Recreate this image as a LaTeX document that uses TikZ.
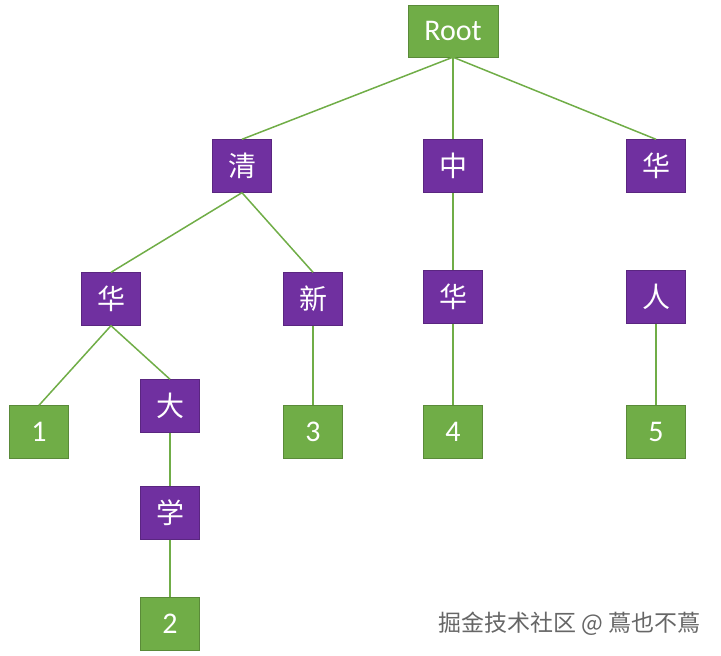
\documentclass[tikz,border=0pt]{standalone}
\usepackage{fontspec}
\setmainfont{Carlito}
\newfontfamily\cjk{Noto Sans CJK SC}
\definecolor{gn}{HTML}{70AD47}
\definecolor{pp}{HTML}{7030A0}
\begin{document}
\begin{tikzpicture}[x=1pt,y=-1pt,
  g/.style={fill=gn,draw=gn!80!black,line width=0.4pt,minimum width=59pt,minimum height=53pt,inner sep=0pt,text=white,font=\fontsize{30}{30}\selectfont},
  p/.style={fill=pp,draw=pp!80!black,line width=0.4pt,minimum width=59pt,minimum height=53pt,inner sep=0pt,text=white,font=\cjk\fontsize{28}{28}\selectfont},
  e/.style={draw=gn,line width=1.5pt}]
\useasboundingbox (0,0) rectangle (721,656);
\node[g,minimum width=90pt,minimum height=52pt] (root) at (453,31) {Root};
\node[p] (qing) at (242,166) {清};
\node[p] (zhong) at (453,166) {中};
\node[p] (huaR) at (656,166) {华};
\node[p] (huaL) at (111,299) {华};
\node[p] (xin) at (313,299) {新};
\node[p] (huaM) at (453,297) {华};
\node[p] (ren) at (656,297) {人};
\node[g] (n1) at (39,432) {1};
\node[p] (da) at (170,406) {大};
\node[g] (n3) at (313,432) {3};
\node[g] (n4) at (453,432) {4};
\node[g] (n5) at (656,432) {5};
\node[p] (xue) at (170,513) {学};
\node[g] (n2) at (170,624) {2};
\draw[e] (root.south) -- (qing.north);
\draw[e] (root.south) -- (zhong.north);
\draw[e] (root.south) -- (huaR.north);
\draw[e] (qing.south) -- (huaL.north);
\draw[e] (qing.south) -- (xin.north);
\draw[e] (huaL.south) -- (n1.north);
\draw[e] (huaL.south) -- (da.north);
\draw[e] (da) -- (xue);
\draw[e] (xue) -- (n2);
\draw[e] (xin) -- (n3);
\draw[e] (zhong) -- (huaM);
\draw[e] (huaM) -- (n4);
\draw[e] (ren) -- (n5);
\node[text=black!60,font=\cjk\fontsize{23}{23}\selectfont,anchor=east,inner sep=0pt] (wm) at (701,624) {掘金技术社区 @ 蔦也不蔦};
\end{tikzpicture}
\end{document}
